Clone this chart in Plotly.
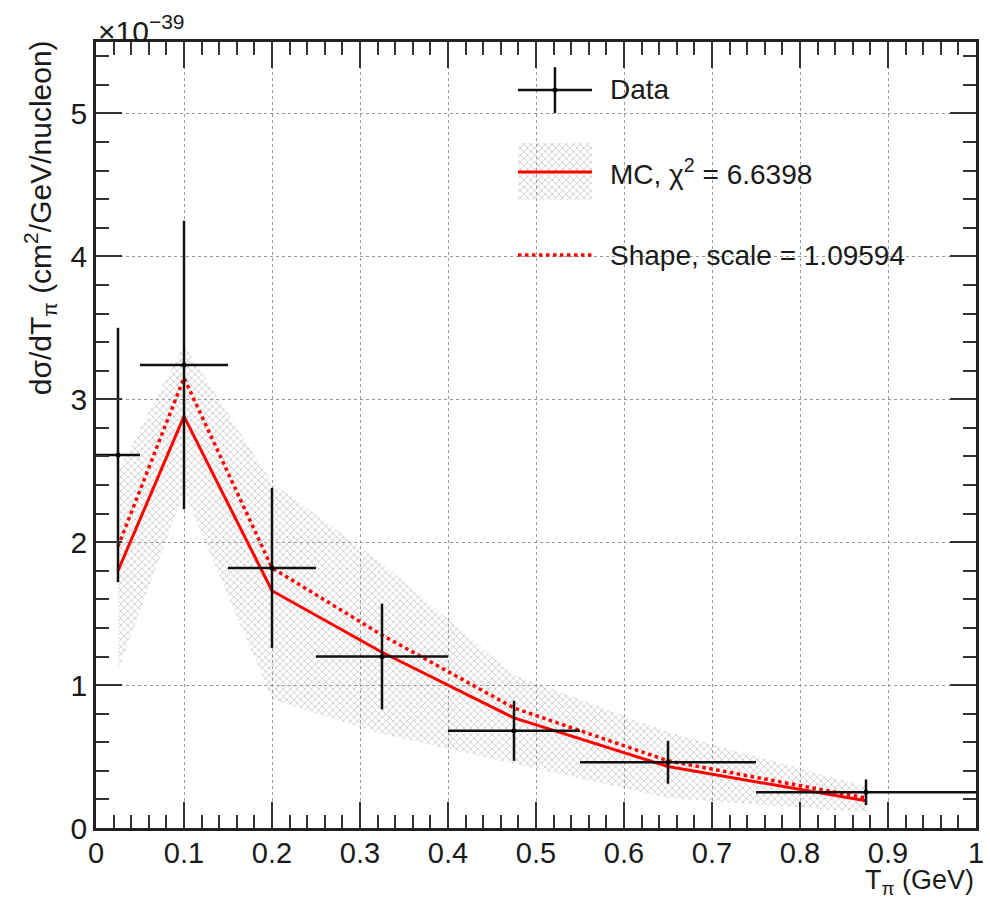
import plotly.graph_objects as go

# ---------------- data (units of 1e-39 cm^2/GeV/nucleon) ----------------
x_centers = [0.025, 0.1, 0.2, 0.325, 0.475, 0.65, 0.875]
bin_lo = [0.0, 0.05, 0.15, 0.25, 0.4, 0.55, 0.75]
bin_hi = [0.05, 0.15, 0.25, 0.4, 0.55, 0.75, 1.0]
data_y = [2.61, 3.24, 1.82, 1.20, 0.68, 0.46, 0.25]
data_err = [0.89, 1.01, 0.56, 0.37, 0.21, 0.15, 0.09]
mc_y = [1.80, 2.88, 1.66, 1.23, 0.77, 0.43, 0.19]
shape_y = [1.97, 3.15, 1.82, 1.35, 0.84, 0.47, 0.21]
band_hi = [2.50, 3.38, 2.42, 1.85, 1.07, 0.67, 0.29]
band_lo = [1.10, 2.35, 0.90, 0.66, 0.45, 0.21, 0.11]

legend_labels = ["Data", "MC, χ<sup>2</sup> = 6.6398", "Shape, scale = 1.09594"]

FONT = "Liberation Sans, Arial, Helvetica, sans-serif"
FS = 30      # axis labels / titles
FS_LEG = 28  # legend text
RED = "#ff0000"
TXT = "#1a1a1a"
HATCH = dict(shape="x", fgcolor="#9c9c9c", bgcolor="rgba(255,255,255,0)",
             size=5, solidity=0.18)

xerr_plus = [h - c for h, c in zip(bin_hi, x_centers)]
xerr_minus = [c - l for c, l in zip(x_centers, bin_lo)]

fig = go.Figure()

# MC uncertainty band (hatched)
fig.add_trace(go.Scatter(x=x_centers, y=band_lo, mode="lines",
                         line=dict(width=0, color="rgba(0,0,0,0)"),
                         showlegend=False, hoverinfo="skip"))
fig.add_trace(go.Scatter(x=x_centers, y=band_hi, mode="lines",
                         line=dict(width=0, color="rgba(0,0,0,0)"),
                         fill="tonexty", fillcolor="rgba(0,0,0,0)",
                         fillpattern=HATCH, showlegend=False, hoverinfo="skip"))

# MC line and shape line
fig.add_trace(go.Scatter(x=x_centers, y=mc_y, mode="lines",
                         line=dict(color=RED, width=3), showlegend=False))
fig.add_trace(go.Scatter(x=x_centers, y=shape_y, mode="lines",
                         line=dict(color=RED, width=3.5, dash="dot"),
                         showlegend=False))

# Data with error bars
fig.add_trace(go.Scatter(
    x=x_centers, y=data_y, mode="markers",
    marker=dict(color="black", size=5),
    error_x=dict(type="data", symmetric=False, array=xerr_plus,
                 arrayminus=xerr_minus, color="#111", thickness=2.5, width=0),
    error_y=dict(type="data", array=data_err, color="#111",
                 thickness=2.5, width=0),
    showlegend=False))

# ---------------- manual ROOT-style legend on overlay axes ----------------
lx0, lx1 = 0.4795, 0.5636
lxc = (lx0 + lx1) / 2
y_data, y_mc, y_shape = 0.939, 0.8346, 0.729
tx = 0.582

L = dict(xaxis="x2", yaxis="y2", showlegend=False, hoverinfo="skip")
fig.add_trace(go.Scatter(x=[lx0, lx1], y=[y_data, y_data], mode="lines",
                         line=dict(color="#111", width=2.5), **L))
fig.add_trace(go.Scatter(x=[lxc, lxc], y=[0.968, 0.9097], mode="lines",
                         line=dict(color="#111", width=2.5), **L))
fig.add_trace(go.Scatter(x=[lxc], y=[y_data], mode="markers",
                         marker=dict(color="black", size=5), **L))
fig.add_trace(go.Scatter(x=[lx0, lx1, lx1, lx0, lx0],
                         y=[0.799, 0.799, 0.8715, 0.8715, 0.799],
                         mode="lines", line=dict(width=0, color="rgba(0,0,0,0)"),
                         fill="toself", fillcolor="rgba(0,0,0,0)",
                         fillpattern=HATCH, **L))
fig.add_trace(go.Scatter(x=[lx0, lx1], y=[y_mc, y_mc], mode="lines",
                         line=dict(color=RED, width=3), **L))
fig.add_trace(go.Scatter(x=[lx0, lx1], y=[y_shape, y_shape], mode="lines",
                         line=dict(color=RED, width=3.5, dash="dot"), **L))

annotations = []
for lbl, yy in zip(legend_labels, [y_data, y_mc, y_shape]):
    annotations.append(dict(x=tx, y=yy, xref="paper", yref="paper",
                            text=lbl, showarrow=False, xanchor="left",
                            yanchor="middle",
                            font=dict(family=FONT, size=FS_LEG, color=TXT)))

# axis titles (ROOT style: right-aligned at the axis end)
annotations.append(dict(x=-0.064, y=1.005, xref="paper", yref="paper",
                        text="dσ/dT<sub>π</sub> (cm<sup>2</sup>/GeV/nucleon)",
                        textangle=-90, showarrow=False, xanchor="center",
                        yanchor="top", font=dict(family=FONT, size=FS, color=TXT)))
annotations.append(dict(x=1.0, y=-0.0935, xref="paper", yref="paper",
                        text="T<sub>π</sub> (GeV)", showarrow=False,
                        xanchor="right", yanchor="bottom",
                        font=dict(family=FONT, size=27, color=TXT)))
annotations.append(dict(x=0.0, y=1.0, xref="paper", yref="paper",
                        text="×10<sup>−39</sup>", showarrow=False,
                        xanchor="left", yanchor="bottom", yshift=-8,
                        font=dict(family=FONT, size=FS, color=TXT)))

axis_common = dict(showline=True, linecolor="#222", linewidth=2.5,
                   mirror="allticks", ticks="inside", ticklen=26,
                   tickwidth=1.5, tickcolor="#333", automargin=False,
                   showgrid=True, gridcolor="#9a9a9a", griddash="dot",
                   gridwidth=1.2, zeroline=False)

fig.update_layout(
    template="none",
    width=990, height=902,
    margin=dict(l=96, r=14, t=42, b=74),
    paper_bgcolor="white", plot_bgcolor="white",
    showlegend=False,
    xaxis=dict(range=[0, 1], dtick=0.1, tick0=0, ticklabelstandoff=-3,
               tickfont=dict(family=FONT, size=29, color=TXT),
               minor=dict(dtick=0.02, ticks="inside", ticklen=13,
                          tickcolor="#333", showgrid=False),
               **axis_common),
    yaxis=dict(range=[0, 5.5], dtick=1, tick0=0,
               tickfont=dict(family=FONT, size=FS, color=TXT),
               minor=dict(dtick=0.2, ticks="inside", ticklen=13,
                          tickcolor="#333", showgrid=False),
               **axis_common),
    xaxis2=dict(range=[0, 1], overlaying="x", visible=False, fixedrange=True),
    yaxis2=dict(range=[0, 1], overlaying="y", visible=False, fixedrange=True),
    annotations=annotations,
)

fig.write_html("out.html")
